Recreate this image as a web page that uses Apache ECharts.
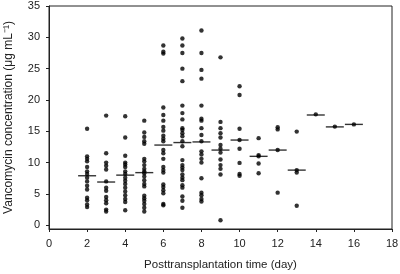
<!DOCTYPE html>
<html>
<head>
<meta charset="utf-8">
<script src="https://cdn.jsdelivr.net/npm/echarts@6/dist/echarts.min.js"></script>
<style>
  html, body { margin: 0; padding: 0; background: #fff; }
  #chart { width: 400px; height: 274px; }
</style>
</head>
<body>
<div id="chart"></div>
<script>
// posttransplantation days and the concentrations
const days = [2, 3, 4, 5, 6, 7, 8, 9, 10, 11, 12, 13, 14, 15, 16];
const day2 = [15.4, 11.0, 10.6, 10.2, 9.3, 8.6, 8.2, 7.6, 7.0, 6.3, 5.7, 4.4, 4.0, 3.3, 2.9];
const day3 = [17.5, 11.5, 10.0, 9.5, 8.9, 7.0, 6.0, 5.5, 4.5, 4.0, 3.5, 2.5, 2.2];
const day4 = [17.4, 14.0, 11.1, 10.0, 9.7, 9.3, 8.6, 8.2, 7.6, 7.1, 6.6, 6.0, 5.4, 4.8, 4.2, 3.7, 2.4];
const day5 = [16.7, 14.8, 14.1, 13.4, 13.0, 10.6, 10.2, 9.6, 9.0, 8.6, 8.3, 7.8, 7.2, 6.6, 6.2, 4.7, 4.3, 3.9, 3.4, 2.8, 2.2];
const day6 = [28.7, 27.7, 27.4, 18.8, 17.6, 16.7, 15.7, 15.1, 14.3, 13.8, 13.4, 12.0, 11.5, 10.6, 9.3, 8.8, 8.4, 6.5, 6.1, 5.6, 5.1, 3.4, 3.2];
const day7 = [29.8, 28.7, 27.5, 25.0, 23.0, 19.1, 17.9, 16.9, 15.5, 15.2, 14.7, 14.2, 13.4, 12.6, 10.4, 9.6, 9.2, 8.8, 8.1, 7.6, 7.2, 6.4, 6.0, 4.6, 3.9, 2.8];
const day8 = [31.1, 27.5, 24.8, 23.4, 19.1, 17.0, 16.7, 15.5, 14.4, 13.4, 11.8, 11.3, 10.6, 10.0, 7.5, 5.2, 4.8, 4.2, 3.8];
const day9 = [26.8, 16.5, 15.5, 14.7, 14.0, 12.8, 12.2, 11.6, 10.5, 9.6, 9.0, 8.1, 0.8];
const day10 = [22.2, 20.8, 15.4, 13.6, 12.2, 9.95, 8.2, 7.9];
const day11 = [13.9, 11.2, 11.0, 9.85, 8.3];
const day12 = [15.65, 15.3, 12.0, 5.2];
const day13 = [14.95, 8.8, 8.4, 3.1];
const day14 = [17.7];
const day15 = [15.75];
const day16 = [16.1];
const medians = [7.9, 6.9, 8.0, 8.4, 12.8, 13.2, 13.3, 12.0, 13.6, 11.0, 12.0, 8.8, 17.6, 15.7, 16.1];
const yTicks = [0, 5, 10, 15, 20, 25, 30, 35];

const columns = [day2, day3, day4, day5, day6, day7, day8, day9, day10, day11, day12, day13, day14, day15, day16];
let points = [];
columns.forEach((col, i) => {
  col.forEach(v => points.push([days[i], v]));
});
let medianPts = days.map((d, i) => [d, medians[i]]);

let myChart = echarts.init(document.getElementById('chart'));
const txt = '#222';
const font = 'Liberation Sans, Arial, sans-serif';

const option = {
  animation: false,
  grid: {
    left: 49, right: 8, top: 6, bottom: 45,
    outerBoundsMode: 'none',
    containLabel: false,
    show: true, borderColor: '#222', borderWidth: 1
  },
  xAxis: {
    type: 'value',
    min: 0, max: 18, interval: 2,
    name: 'Posttransplantation time (day)',
    nameLocation: 'middle',
    nameGap: 30,
    nameTextStyle: { color: txt, fontSize: 11.5, fontFamily: font },
    axisLine: { show: true, onZero: false, lineStyle: { color: '#222', width: 1 } },
    axisTick: { show: true, inside: false, length: 3, lineStyle: { color: '#222' } },
    axisLabel: { color: txt, fontSize: 11, fontFamily: font, margin: 9 },
    splitLine: { show: false }
  },
  yAxis: {
    type: 'value',
    min: -0.6, max: 35,
    name: 'Vancomycin concentration (\u03bcg mL\u207b\u00b9)',
    nameLocation: 'middle',
    nameGap: 34,
    nameTextStyle: { color: txt, fontSize: 12, fontFamily: font },
    axisLine: { show: true, lineStyle: { color: '#222', width: 1 } },
    axisTick: { show: true, inside: false, length: 3, customValues: yTicks, lineStyle: { color: '#222' } },
    axisLabel: { color: txt, fontSize: 11, fontFamily: font, margin: 9, customValues: yTicks },
    splitLine: { show: false }
  },
  series: [
    {
      type: 'scatter',
      data: points,
      symbol: 'circle',
      symbolSize: 4.4,
      itemStyle: { color: '#000' }
    },
    {
      type: 'scatter',
      data: medianPts,
      symbol: 'rect',
      symbolSize: [18, 1.4],
      itemStyle: { color: '#000' },
      z: 3
    }
  ]
};

option && myChart.setOption(option);
</script>
</body>
</html>
